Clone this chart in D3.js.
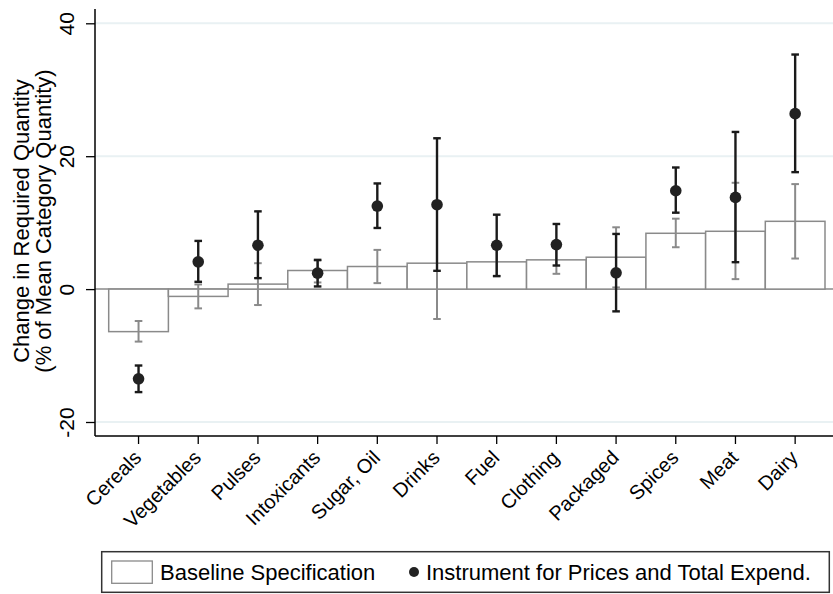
<!DOCTYPE html>
<html>
<head>
<meta charset="utf-8">
<script src="https://cdn.jsdelivr.net/npm/d3@7"></script>
<style>
  body { margin: 0; background: #fff; }
  svg { display: block; font-family: "Liberation Sans", Arial, sans-serif; }
</style>
</head>
<body>
<div id="chart"></div>
<script>
const categories = ["Cereals", "Vegetables", "Pulses", "Intoxicants", "Sugar, Oil", "Drinks",
  "Fuel", "Clothing", "Packaged", "Spices", "Meat", "Dairy"];

// baseline specification (bars + grey CI)
const baseEst = [-6.4, -1.1, 0.75, 2.8, 3.4, 3.9, 4.1, 4.4, 4.8, 8.4, 8.7, 10.2];
const baseLo  = [-7.9, -2.9, -2.4, 1.0, 0.9, -4.5, 2.0, 2.3, 0.25, 6.3, 1.5, 4.6];
const baseHi  = [-4.8, 0.7, 3.9, 4.3, 5.9, 12.2, 6.2, 6.5, 9.3, 10.6, 16.0, 15.8];

// instrumented specification (dots + black CI)
const ivEst = [-13.5, 4.1, 6.6, 2.4, 12.5, 12.7, 6.6, 6.7, 2.45, 14.8, 13.8, 26.4];
const ivLo  = [-15.5, 1.1, 1.65, 0.4, 9.2, 2.75, 1.95, 3.55, -3.35, 11.5, 4.05, 17.6];
const ivHi  = [-11.5, 7.25, 11.7, 4.4, 15.9, 22.7, 11.2, 9.8, 8.3, 18.3, 23.65, 35.3];

const yTicks = [-20, 0, 20, 40];
const legendLabels = ["Baseline Specification", "Instrument for Prices and Total Expend."];

const W = 833, H = 594;
const left = 95, right = 833, axisY = 436;

const svg = d3.select("#chart").append("svg").attr("width", W).attr("height", H);

const x = d3.scaleBand().domain(categories).range([108.7, 825]).padding(0);
const y = d3.scaleLinear().domain([-20, 40]).range([422, 23.3]);

// gridlines
svg.append("g").selectAll("line")
  .data(yTicks.filter(d => d !== 0))
  .join("line")
  .attr("x1", left).attr("x2", right)
  .attr("y1", d => y(d)).attr("y2", d => y(d))
  .attr("stroke", "#e9f1f3").attr("stroke-width", 2);

// zero line
svg.append("line")
  .attr("x1", left).attr("x2", right)
  .attr("y1", y(0)).attr("y2", y(0))
  .attr("stroke", "#8a8a8a").attr("stroke-width", 1.5);

const rows = categories.map((c, i) => ({
  c, b: baseEst[i], bl: baseLo[i], bh: baseHi[i], v: ivEst[i], vl: ivLo[i], vh: ivHi[i]
}));

// bars
svg.append("g").selectAll("rect")
  .data(rows)
  .join("rect")
  .attr("x", d => x(d.c))
  .attr("width", x.bandwidth())
  .attr("y", d => Math.min(y(d.b), y(0)))
  .attr("height", d => Math.abs(y(d.b) - y(0)))
  .attr("fill", "#fff")
  .attr("stroke", "#8a8a8a")
  .attr("stroke-width", 1.5);

function drawCI(lo, hi, color, width, cap) {
  const g = svg.append("g").attr("stroke", color).attr("stroke-width", width);
  g.selectAll(".v").data(rows).join("line")
    .attr("x1", d => x(d.c) + x.bandwidth() / 2).attr("x2", d => x(d.c) + x.bandwidth() / 2)
    .attr("y1", d => y(d[lo])).attr("y2", d => y(d[hi]));
  [lo, hi].forEach(k => {
    g.selectAll(".c" + k).data(rows).join("line")
      .attr("x1", d => x(d.c) + x.bandwidth() / 2 - cap)
      .attr("x2", d => x(d.c) + x.bandwidth() / 2 + cap)
      .attr("y1", d => y(d[k])).attr("y2", d => y(d[k]));
  });
}

drawCI("bl", "bh", "#8a8a8a", 2, 3.8);
drawCI("vl", "vh", "#1a1a1a", 2.4, 3.8);

// dots
svg.append("g").selectAll("circle")
  .data(rows)
  .join("circle")
  .attr("cx", d => x(d.c) + x.bandwidth() / 2)
  .attr("cy", d => y(d.v))
  .attr("r", 5.8)
  .attr("fill", "#222");

// y axis
const yAxis = svg.append("g")
  .attr("transform", `translate(${left},0)`)
  .call(d3.axisLeft(y).tickValues(yTicks).tickSize(9).tickSizeOuter(0).tickFormat(d => String(d)));
yAxis.select(".domain").attr("d", `M0,9V${axisY}`).attr("stroke", "#000").attr("stroke-width", 1.5);
yAxis.selectAll(".tick line").attr("stroke", "#000").attr("stroke-width", 1.3);
yAxis.selectAll(".tick text")
  .attr("x", null).attr("dy", null)
  .attr("transform", "translate(-21,0) rotate(-90)")
  .attr("text-anchor", "middle")
  .attr("font-size", 21)
  .attr("font-family", "Liberation Sans, Arial, sans-serif")
  .attr("fill", "#000");

// x axis
const xAxis = svg.append("g")
  .attr("transform", `translate(0,${axisY})`)
  .call(d3.axisBottom(x).tickSize(8).tickSizeOuter(0));
xAxis.select(".domain").attr("d", `M${left},0H${right}`).attr("stroke", "#000").attr("stroke-width", 1.5);
xAxis.selectAll(".tick line").attr("stroke", "#000").attr("stroke-width", 1.3);
xAxis.selectAll(".tick text")
  .attr("y", null).attr("dy", null)
  .attr("transform", "translate(4,23) rotate(-45)")
  .attr("text-anchor", "end")
  .attr("font-size", 20)
  .attr("font-family", "Liberation Sans, Arial, sans-serif")
  .attr("fill", "#000");

// y title
const yt = svg.append("text")
  .attr("transform", `translate(0,221) rotate(-90)`)
  .attr("text-anchor", "middle")
  .attr("font-size", 22)
  .attr("fill", "#000");
yt.append("tspan").attr("x", 0).attr("y", 28.5).text("Change in Required Quantity");
yt.append("tspan").attr("x", 0).attr("y", 51).text("(% of Mean Category Quantity)");

// legend
const lg = svg.append("g");
lg.append("rect")
  .attr("x", 101.7).attr("y", 551.7).attr("width", 727.6).attr("height", 40.6)
  .attr("fill", "#fff").attr("stroke", "#333").attr("stroke-width", 1.5);
lg.append("rect")
  .attr("x", 111.7).attr("y", 561).attr("width", 40.6).attr("height", 22.3)
  .attr("fill", "#fff").attr("stroke", "#8a8a8a").attr("stroke-width", 1.3);
lg.append("text").attr("x", 160).attr("y", 580).attr("font-size", 22).attr("fill", "#000")
  .text(legendLabels[0]);
lg.append("circle").attr("cx", 414).attr("cy", 572).attr("r", 5).attr("fill", "#222");
lg.append("text").attr("x", 426).attr("y", 580).attr("font-size", 22).attr("fill", "#000")
  .text(legendLabels[1]);
</script>
</body>
</html>
